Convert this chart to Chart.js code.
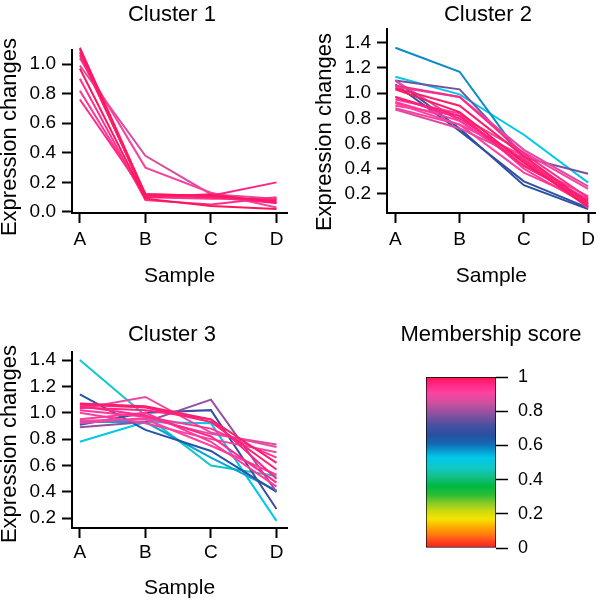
<!DOCTYPE html>
<html>
<head>
<meta charset="utf-8">
<script src="https://cdn.jsdelivr.net/npm/chart.js@4.4.0/dist/chart.umd.min.js"></script>
<style>
  body { margin: 0; background: #fff; overflow: hidden; }
  .page { position: relative; width: 600px; height: 605px; }
  canvas { position: absolute; }
  .title, .ytitle {
    position: absolute;
    text-align: center;
    font-family: "Liberation Sans", Arial, Helvetica, sans-serif;
    color: #000;
    white-space: nowrap;
  }
  .title { width: 300px; font-size: 22px; line-height: 22px; }
  .ytitle { width: 240px; font-size: 22px; line-height: 22px; transform: rotate(-90deg); }
</style>
</head>
<body>
<div class="page">
  <canvas id="c1" width="300" height="300" style="left:0;top:0"></canvas>
  <canvas id="c2" width="300" height="300" style="left:300px;top:0"></canvas>
  <canvas id="c3" width="300" height="305" style="left:0;top:300px"></canvas>
  <canvas id="c4" width="220" height="305" style="left:380px;top:300px"></canvas>

  <div class="title" style="left:22px;top:3px">Cluster 1</div>
  <div class="title" style="left:338px;top:3px">Cluster 2</div>
  <div class="title" style="left:22px;top:323px">Cluster 3</div>
  <div class="title" style="left:341px;top:323px">Membership score</div>

  <div class="ytitle" style="left:-111px;top:126px">Expression changes</div>
  <div class="ytitle" style="left:204px;top:121px">Expression changes</div>
  <div class="ytitle" style="left:-111px;top:433px">Expression changes</div>
</div>

<script>
// kategorie na osi x
const samples = ["A", "B", "C", "D"]

// Cluster 1 - kazda linia to jeden gen (A, B, C, D)
const cluster1 = [
    [1.11, 0.12, 0.11, 0.07],
    [1.10, 0.10, 0.12, 0.06],
    [1.08, 0.11, 0.10, 0.08],
    [1.06, 0.12, 0.11, 0.20],
    [0.99, 0.38, 0.12, 0.09],
    [1.04, 0.30, 0.13, 0.03],
    [0.97, 0.09, 0.04, 0.02],
    [0.90, 0.08, 0.05, 0.10],
    [0.82, 0.10, 0.09, 0.09],
    [0.76, 0.12, 0.10, 0.06]
]
const cluster1Scores = [0.99, 0.98, 0.97, 0.96, 0.86, 0.9, 0.995, 0.94, 0.93, 0.95]
const cluster1Ticks = [0, 0.2, 0.4, 0.6, 0.8, 1.0]

// Cluster 2
const cluster2 = [
    [1.36, 1.17, 0.47, 0.12],
    [1.13, 0.99, 0.67, 0.29],
    [1.10, 1.03, 0.49, 0.36],
    [1.10, 0.72, 0.27, 0.08],
    [1.07, 0.70, 0.30, 0.09],
    [1.06, 0.97, 0.52, 0.17],
    [1.05, 0.97, 0.55, 0.26],
    [1.04, 0.90, 0.50, 0.13],
    [1.03, 0.85, 0.45, 0.10],
    [0.97, 0.82, 0.42, 0.15],
    [0.97, 0.80, 0.47, 0.12],
    [0.95, 0.84, 0.40, 0.11],
    [0.93, 0.78, 0.45, 0.18],
    [0.92, 0.75, 0.37, 0.14],
    [0.90, 0.82, 0.53, 0.24],
    [0.88, 0.75, 0.50, 0.10],
    [0.87, 0.72, 0.48, 0.09],
    [1.10, 0.78, 0.43, 0.16]
]
const cluster2Scores = [0.58, 0.53, 0.76, 0.66, 0.68, 0.95, 0.87, 0.98, 0.99, 0.97, 0.96, 0.93, 0.92, 0.91, 0.89, 0.9, 0.87, 0.88]
const cluster2Ticks = [0.2, 0.4, 0.6, 0.8, 1.0, 1.2, 1.4]

// Cluster 3
const cluster3 = [
    [1.40, 0.98, 0.60, 0.52],
    [0.78, 0.93, 0.92, 0.18],
    [0.93, 0.93, 0.66, 0.41],
    [1.14, 0.87, 0.71, 0.40],
    [0.91, 1.00, 1.02, 0.27],
    [0.89, 0.93, 1.10, 0.40],
    [1.03, 1.12, 0.85, 0.74],
    [1.07, 1.05, 0.95, 0.62],
    [1.06, 1.04, 0.93, 0.57],
    [1.05, 0.98, 0.82, 0.47],
    [1.02, 0.97, 0.88, 0.66],
    [0.95, 1.00, 0.78, 0.44],
    [0.94, 0.95, 0.75, 0.53],
    [0.92, 0.96, 0.84, 0.76],
    [1.00, 0.92, 0.80, 0.70],
    [1.04, 1.02, 0.95, 0.50]
]
const cluster3Scores = [0.47, 0.53, 0.56, 0.65, 0.69, 0.79, 0.89, 0.98, 0.97, 0.95, 0.93, 0.92, 0.91, 0.87, 0.89, 0.96]
const cluster3Ticks = [0.2, 0.4, 0.6, 0.8, 1.0, 1.2, 1.4]

// skala kolorow membership score
const scoreTicks = [0, 0.2, 0.4, 0.6, 0.8, 1]
const scoreStops = [0, 0.03, 0.07, 0.12, 0.17, 0.21, 0.26, 0.31, 0.36, 0.42, 0.47, 0.53, 0.57, 0.61, 0.66, 0.72, 0.78, 0.85, 0.91, 0.96, 1]
const scoreColors = ["#ff2222", "#ff3a1e", "#ff7014", "#ffa800", "#f5e400", "#d4da10", "#8ccc24", "#2cbe36", "#00b840",
    "#12c08c", "#10c8c8", "#00c8ea", "#0898d0", "#1468b4", "#2850a0", "#4a50a0", "#8a50a0", "#d050a0", "#ff40a0", "#ff2484", "#ff1450"]

const FONT = '"Liberation Sans", Arial, Helvetica, sans-serif'

function hexToRgb(hex) {
    const n = parseInt(hex.slice(1), 16)
    return [(n >> 16) & 255, (n >> 8) & 255, n & 255]
}

// zamiana score -> kolor (interpolacja miedzy stopami)
function scoreColor(s) {
    for (let i = 1; i < scoreStops.length; i++) {
        if (s <= scoreStops[i]) {
            const t = (s - scoreStops[i - 1]) / (scoreStops[i] - scoreStops[i - 1])
            const a = hexToRgb(scoreColors[i - 1])
            const b = hexToRgb(scoreColors[i])
            const c = a.map((v, k) => Math.round(v + (b[k] - v) * t))
            return "rgb(" + c.join(",") + ")"
        }
    }
    return scoreColors[scoreColors.length - 1]
}

function createCluster(canvas, lines, scores, yTicks, box) {
    const datasets = lines.map((line, i) => ({
        data: line.map((v, k) => ({ x: k, y: v })),
        borderColor: scoreColor(scores[i]),
        borderWidth: 2,
        pointRadius: 0,
        tension: 0,
        clip: false,
        order: 1 - scores[i]
    }))

    new Chart(canvas, {
        type: 'line',
        data: { datasets },
        options: {
            responsive: false,
            animation: false,
            events: [],
            layout: { padding: box.padding },
            plugins: { legend: { display: false }, tooltip: { enabled: false }, title: { display: false } },
            scales: {
                x: {
                    type: 'linear',
                    min: box.xMin,
                    max: box.xMax,
                    afterBuildTicks: s => { s.ticks = samples.map((t, i) => ({ value: i })) },
                    afterFit: s => { s.height = box.xHeight },
                    ticks: { callback: v => samples[v], color: '#000', font: { family: FONT, size: 19 }, padding: box.labelPad, maxRotation: 0, autoSkip: false },
                    grid: { drawOnChartArea: false, drawTicks: true, tickLength: 10, tickWidth: 2, tickColor: '#000' },
                    border: { display: true, color: '#000', width: 2 },
                    title: { display: true, text: 'Sample', color: '#000', font: { family: FONT, size: 21 }, padding: { top: 0, bottom: box.titlePad } }
                },
                y: {
                    min: box.yMin,
                    max: box.yMax,
                    afterBuildTicks: s => { s.ticks = yTicks.map(v => ({ value: v })) },
                    afterFit: s => { s.width = box.yWidth },
                    ticks: { callback: v => v.toFixed(1), color: '#000', font: { family: FONT, size: 19 }, padding: 6 },
                    grid: { drawOnChartArea: false, drawTicks: true, tickLength: 10, tickWidth: 2, tickColor: '#000' },
                    border: { display: true, color: '#000', width: 2 }
                }
            }
        }
    })
}

function createColorBar(canvas) {
    // gradient robiony wedlug osi y, zeby kolory zgadzaly sie z wartosciami
    const gradient = (chart) => {
        const area = chart.chartArea
        if (!area) return scoreColors[0]
        const g = chart.ctx.createLinearGradient(0, area.bottom, 0, area.top)
        scoreStops.forEach((s, i) => g.addColorStop(s, scoreColors[i]))
        return g
    }

    new Chart(canvas, {
        type: 'bar',
        data: {
            labels: [''],
            datasets: [{
                data: [1],
                backgroundColor: ctx => gradient(ctx.chart),
                borderColor: '#000',
                borderWidth: 1,
                borderSkipped: false,
                categoryPercentage: 1,
                barPercentage: 1
            }]
        },
        options: {
            responsive: false,
            animation: false,
            events: [],
            layout: { padding: { left: 46, right: 0, top: 77, bottom: 57 } },
            plugins: { legend: { display: false }, tooltip: { enabled: false } },
            scales: {
                x: { display: false },
                y: {
                    position: 'right',
                    min: 0,
                    max: 1,
                    afterBuildTicks: s => { s.ticks = scoreTicks.map(v => ({ value: v })) },
                    afterFit: s => { s.width = 104 },
                    ticks: { callback: v => String(v), color: '#000', font: { family: FONT, size: 18 }, padding: 10 },
                    grid: { drawOnChartArea: false, drawTicks: true, tickLength: 12, tickWidth: 1.5, tickColor: '#000' },
                    border: { display: false }
                }
            }
        }
    })
}

createCluster(document.getElementById("c1"), cluster1, cluster1Scores, cluster1Ticks, {
    padding: { left: 0, right: 13, top: 50, bottom: 0 },
    yWidth: 72, xHeight: 87, titlePad: 11, labelPad: 5,
    xMin: -0.12, xMax: 3.16, yMin: -0.007, yMax: 1.095
})
createCluster(document.getElementById("c2"), cluster2, cluster2Scores, cluster2Ticks, {
    padding: { left: 0, right: 0, top: 29, bottom: 0 },
    yWidth: 87, xHeight: 87, titlePad: 11, labelPad: 5,
    xMin: -0.13, xMax: 3.117, yMin: 0.049, yMax: 1.509
})
createCluster(document.getElementById("c3"), cluster3, cluster3Scores, cluster3Ticks, {
    padding: { left: 0, right: 13, top: 52, bottom: 0 },
    yWidth: 72, xHeight: 77, titlePad: 4, labelPad: 3,
    xMin: -0.12, xMax: 3.16, yMin: 0.126, yMax: 1.461
})
createColorBar(document.getElementById("c4"))
</script>
</body>
</html>
